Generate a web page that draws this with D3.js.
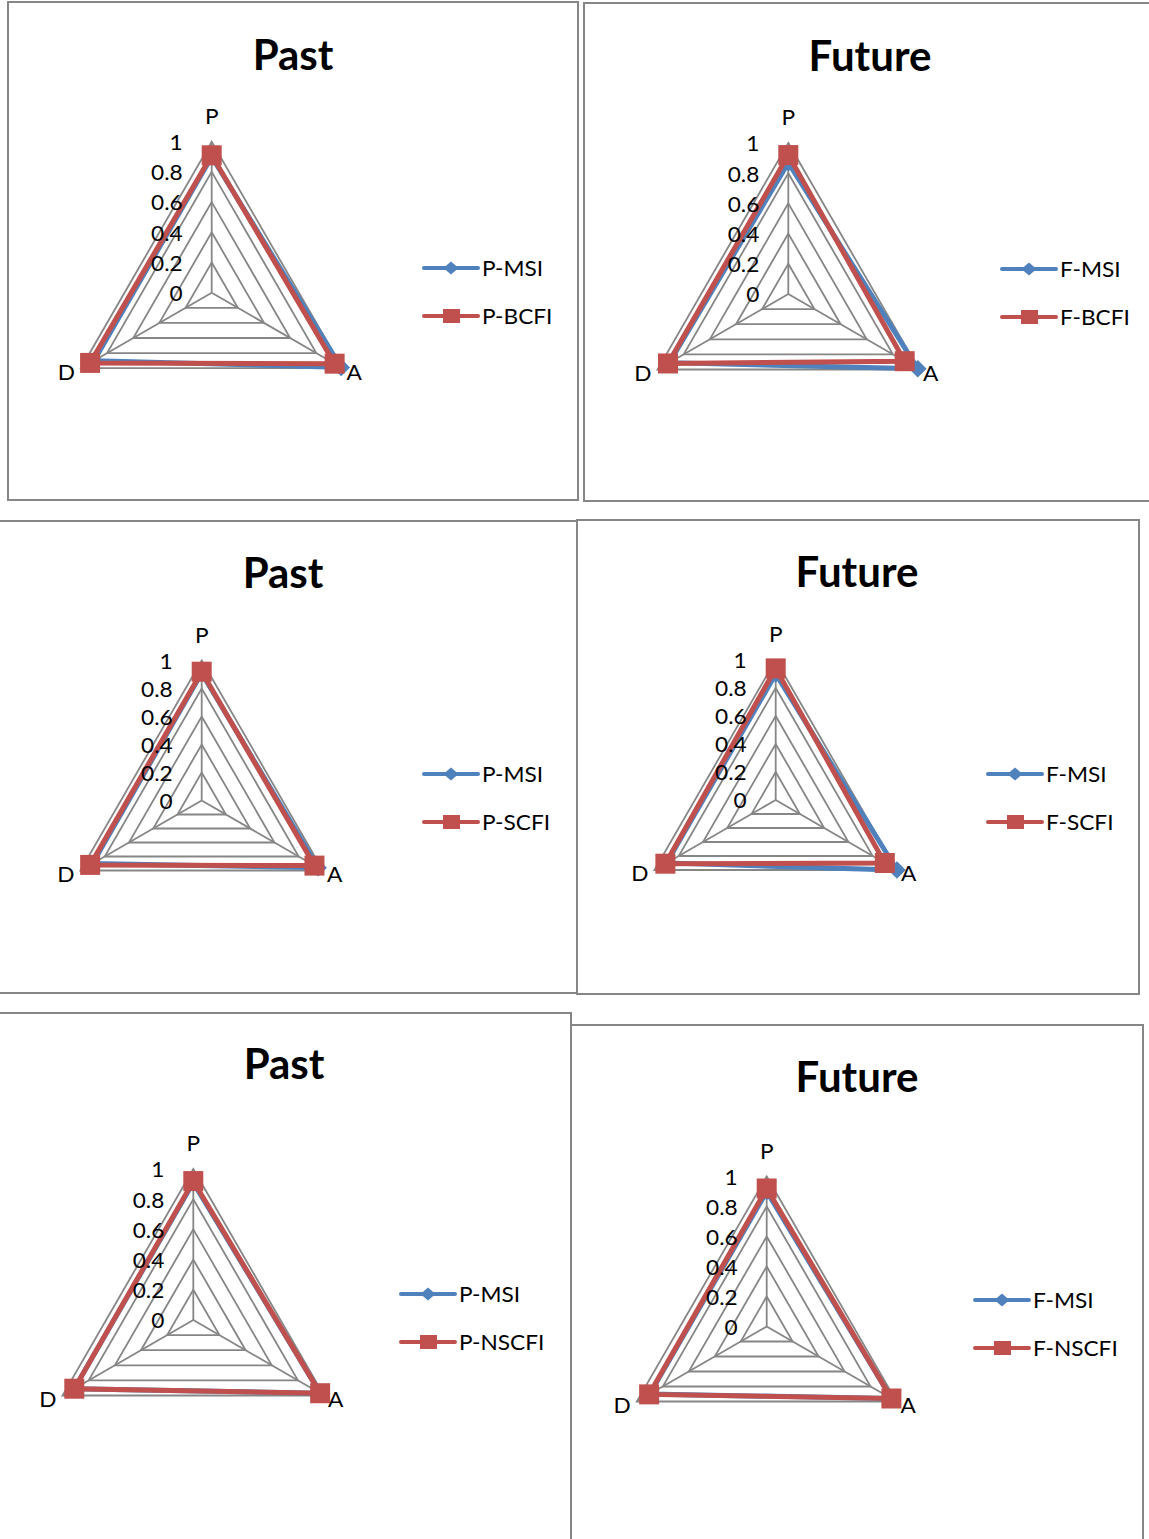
<!DOCTYPE html>
<html>
<head>
<meta charset="utf-8">
<script src="https://cdn.jsdelivr.net/npm/d3@7"></script>
<style>
  html, body { margin: 0; padding: 0; background: #fff; }
  svg { display: block; }
  text { font-family: Lato, "Open Sans", sans-serif; fill: #000; }
</style>
</head>
<body>
<svg id="chart" width="1149" height="1539"></svg>
<script>
// ---------- data ----------
const axes = ["P", "A", "D"];
const tickValues = [0, 0.2, 0.4, 0.6, 0.8, 1];
const tickLabels = ["0", "0.2", "0.4", "0.6", "0.8", "1"];
const panelTitles = ["Past", "Future", "Past", "Future", "Past", "Future"];
const msiNames = ["P-MSI", "F-MSI", "P-MSI", "F-MSI", "P-MSI", "F-MSI"];
const fciNames = ["P-BCFI", "F-BCFI", "P-SCFI", "F-SCFI", "P-NSCFI", "F-NSCFI"];
// values per panel in order P, A, D
const msiValues = [
  [0.90, 0.99, 0.90],
  [0.87, 0.99, 0.91],
  [0.91, 0.96, 0.90],
  [0.90, 1.00, 0.90],
  [0.91, 0.97, 0.91],
  [0.90, 0.96, 0.90]
];
const fciValues = [
  [0.91, 0.94, 0.93],
  [0.92, 0.89, 0.92],
  [0.92, 0.93, 0.92],
  [0.94, 0.90, 0.91],
  [0.92, 0.97, 0.91],
  [0.92, 0.96, 0.905]
];

// ---------- layout ----------
const layouts = [
  {box: [8, 2, 570, 498],    cx: 211.7, cy: 292.7,  r: 151, tx: 293, ty: 54,   lx: 424, ly: 268},
  {box: [584, 3, 580, 498],  cx: 788.3, cy: 294,    r: 151, tx: 870, ty: 55,   lx: 1002, ly: 269},
  {box: [-1, 521, 578, 472], cx: 201.7, cy: 800.5,  r: 140, tx: 283, ty: 572,  lx: 424, ly: 774},
  {box: [577, 520, 562, 474],cx: 775.7, cy: 800,    r: 140, tx: 857, ty: 571,  lx: 988, ly: 774},
  {box: [-1, 1013, 572, 540],cx: 193.3, cy: 1320,   r: 151, tx: 284, ty: 1063, lx: 401, ly: 1294},
  {box: [571, 1025, 572, 530],cx: 766.7, cy: 1326.5,r: 150, tx: 857, ty: 1076, lx: 975, ly: 1300}
];

const BLUE = "#4F81BD", RED = "#C0504D", GRID = "#868686";
const SX = 1.03; // slight horizontal stretch of small text
const FS = 22;

const svg = d3.select("#chart");

function txt(g, x, y, s, size, anchor, weight, sx) {
  return g.append("text")
    .attr("transform", `translate(${x},${y}) scale(${sx},1)`)
    .attr("text-anchor", anchor)
    .attr("dominant-baseline", "central")
    .style("font-size", size + "px")
    .style("font-weight", weight)
    .text(s);
}

const angle = d3.scalePoint().domain(axes).range([0, 2 * Math.PI * 2 / 3]);

layouts.forEach((L, i) => {
  const g = svg.append("g");
  g.append("rect")
    .attr("x", L.box[0]).attr("y", L.box[1])
    .attr("width", L.box[2]).attr("height", L.box[3])
    .attr("fill", "none").attr("stroke", GRID).attr("stroke-width", 2);

  txt(g, L.tx, L.ty, panelTitles[i], 42, "middle", "bold", 1);

  const rScale = d3.scaleLinear().domain([0, 1]).range([0, L.r]);
  const pg = g.append("g").attr("transform", `translate(${L.cx},${L.cy})`);
  const radial = d3.lineRadial()
    .angle((d, k) => angle(axes[k]))
    .radius(d => rScale(d))
    .curve(d3.curveLinearClosed);
  const pt = (a, v) => {
    const ang = angle(a);
    return [Math.sin(ang) * rScale(v), -Math.cos(ang) * rScale(v)];
  };

  tickValues.filter(t => t > 0).forEach(t => {
    pg.append("path")
      .attr("d", radial(axes.map(() => t)))
      .attr("fill", "none").attr("stroke", GRID).attr("stroke-width", 1.8);
  });
  axes.forEach(a => {
    const p = pt(a, 1);
    pg.append("line").attr("x1", 0).attr("y1", 0).attr("x2", p[0]).attr("y2", p[1])
      .attr("stroke", GRID).attr("stroke-width", 1.8);
  });

  const series = [
    {vals: msiValues[i], color: BLUE, marker: "diamond"},
    {vals: fciValues[i], color: RED, marker: "square"}
  ];
  series.forEach(s => {
    pg.append("path")
      .attr("d", radial(s.vals))
      .attr("fill", "none").attr("stroke", s.color)
      .attr("stroke-width", 5).attr("stroke-linejoin", "miter");
    axes.forEach((a, k) => {
      const p = pt(a, s.vals[k]);
      if (s.marker === "square") {
        pg.append("rect").attr("x", p[0] - 10).attr("y", p[1] - 10)
          .attr("width", 20).attr("height", 20).attr("fill", s.color);
      } else {
        pg.append("path")
          .attr("d", d3.symbol(d3.symbolDiamond2, 200)())
          .attr("transform", `translate(${p[0]},${p[1]})`)
          .attr("fill", s.color);
      }
    });
  });

  tickValues.forEach((t, k) => {
    txt(pg, -29, -rScale(t), tickLabels[k], FS, "end", "normal", SX);
  });

  const pP = pt("P", 1), pA = pt("A", 1), pD = pt("D", 1);
  txt(pg, pP[0], pP[1] - 26, "P", FS, "middle", "normal", SX);
  txt(pg, pA[0] + 4, pA[1] + 3, "A", FS, "start", "normal", SX);
  txt(pg, pD[0] - 6, pD[1] + 3, "D", FS, "end", "normal", SX);

  const lg = g.append("g");
  [[msiNames[i], BLUE, "diamond"], [fciNames[i], RED, "square"]].forEach((e, k) => {
    const y = L.ly + k * 48;
    lg.append("line").attr("x1", L.lx).attr("x2", L.lx + 54)
      .attr("y1", y).attr("y2", y)
      .attr("stroke", e[1]).attr("stroke-width", 4).attr("stroke-linecap", "round");
    if (e[2] === "diamond") {
      lg.append("path")
        .attr("d", d3.symbol(d3.symbolDiamond2, 110)())
        .attr("transform", `translate(${L.lx + 27},${y}) scale(1.15,1)`)
        .attr("fill", e[1]);
    } else {
      lg.append("rect").attr("x", L.lx + 19).attr("y", y - 7)
        .attr("width", 17).attr("height", 14).attr("fill", e[1]);
    }
    txt(lg, L.lx + 58, y, e[0], FS, "start", "normal", SX);
  });
});
</script>
</body>
</html>
